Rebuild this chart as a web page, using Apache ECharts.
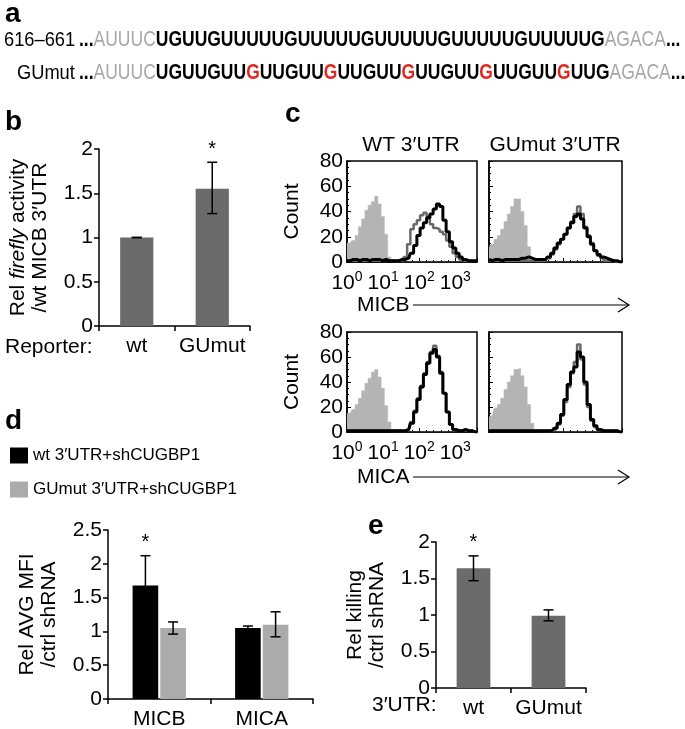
<!DOCTYPE html>
<html>
<head>
<meta charset="utf-8">
<script src="https://cdn.jsdelivr.net/npm/echarts@6/dist/echarts.min.js"></script>
<style>html,body{margin:0;padding:0;background:#fff}#main{width:685px;height:729px}</style>
</head>
<body>
<div id="main"></div>
<script>
const FONT = '"Liberation Sans", Arial, Helvetica, sans-serif';

// b: luciferase reporter
const reporterCats = ['wt', 'GUmut'];
const fireflyVals = [1.0, 1.55];
const fireflyErr = [[1.0, 1.0], [1.27, 1.85]];
const fireflySig = [0, 1];

// c: flow histograms, x in log10 decades (box runs 10^0 .. 10^3.6)
const bins = [0,0.09,0.18,0.27,0.36,0.45,0.54,0.63,0.72,0.81,0.9,0.99,1.08,1.17,1.26,1.35,1.44,1.53,1.62,1.71,
  1.8,1.89,1.98,2.07,2.16,2.25,2.34,2.43,2.52,2.61,2.7,2.79,2.88,2.97,3.06,3.15,3.24,3.33,3.42,3.51,3.6];
const micbWtIso  = [15,15,17,21,28,34,41,45,48,52,46,36,22,4,0,0,0,0,0,0,0,0,0,0,0,0,0,0,0,0,0,0,0,0,0,0,0,0,0,0,0];
const micbWtCtrl = [1,1,1,1,1,1,1,1,1,1,1,1,1,1,1,1,1,1,4,14,26,30,33,37,39,36,30,27,26,24,22,17,12,7,4,2,1,1,1,1,0];
const micbWtSh   = [1,1,2,2,1,2,2,1,2,2,2,1,2,1,1,1,1,2,2,3,7,13,21,27,31,35,38,42,46,44,33,24,16,11,7,4,2,1,1,1,0];
const micbMutIso  = [11,14,18,21,26,32,38,44,50,50,40,29,12,1,0,0,0,0,0,0,0,0,0,0,0,0,0,0,0,0,0,0,0,0,0,0,0,0,0,0,0];
const micbMutCtrl = [1,1,1,1,1,1,1,1,1,1,1,1,1,1,1,1,1,1,3,6,10,14,18,22,27,32,38,44,38,28,21,15,9,5,3,1,1,1,0,0,0];
const micbMutSh   = [2,1,2,2,1,2,2,2,2,2,3,3,4,3,2,2,2,2,4,7,11,15,18,22,27,31,36,38,34,27,20,14,9,6,4,3,2,1,1,0,0];
const micaWtIso  = [15,15,18,22,27,33,39,43,48,50,44,35,21,8,2,0,0,0,0,0,0,0,0,0,0,0,0,0,0,0,0,0,0,0,0,0,0,0,0,0,0];
const micaWtCtrl = [1,1,1,1,1,1,1,1,1,1,1,1,1,1,1,1,1,1,1,2,8,17,27,37,47,56,64,69,61,48,31,16,6,2,1,1,1,1,1,0,0];
const micaWtSh   = [1,1,1,1,1,1,1,1,1,1,1,1,1,1,1,1,1,1,1,2,7,16,26,36,46,55,63,66,60,47,31,16,6,2,1,1,2,1,1,0,0];
const micaMutIso  = [12,13,19,22,27,34,40,45,50,51,45,36,22,7,1,0,0,0,0,0,0,0,0,0,0,0,0,0,0,0,0,0,0,0,0,0,0,0,0,0,0];
const micaMutCtrl = [1,1,1,1,1,1,1,1,1,1,1,1,1,1,1,1,1,1,1,1,2,6,13,24,36,47,56,70,58,38,20,9,4,2,1,1,1,1,1,0,0];
const micaMutSh   = [1,1,1,1,1,1,1,1,1,1,1,1,1,1,1,1,1,1,1,1,3,7,14,26,38,48,52,64,60,40,22,10,5,2,1,1,1,1,1,0,0];
const decadeLabels = ['0', '1', '2', '3'];

// d: MFI
const mfiCats = ['MICB', 'MICA'];
const mfiWt  = [1.68, 1.05];
const mfiMut = [1.05, 1.10];
const mfiWtErr  = [[1.24, 2.12], [1.02, 1.08]];
const mfiMutErr = [[0.96, 1.14], [0.92, 1.29]];
const mfiSig = [1, 0];
const legendNames = ['wt 3′UTR+shCUGBP1', 'GUmut 3′UTR+shCUGBP1'];

// e: killing
const killVals = [1.64, 0.99];
const killErr = [[1.47, 1.81], [0.92, 1.07]];
const killSig = [1, 0];

const chart = echarts.init(document.getElementById('main'));

// text style for axes/legend
function txt(size, extra) {
  return Object.assign({ fontSize: size, fontFamily: FONT, color: '#000' }, extra || {});
}
// text style for graphic / custom elements (zrender uses fill)
function gtxt(size, extra) {
  return Object.assign({ fontSize: size, fontFamily: FONT, fill: '#000' }, extra || {});
}

function errSeries(ax, errs, sig, off) {
  return {
    type: 'custom', xAxisIndex: ax, yAxisIndex: ax, z: 10, silent: true,
    data: errs.map((e, i) => [i, e[0], e[1], sig[i]]),
    renderItem: function (params, api) {
      const top = api.coord([api.value(0), api.value(2)]);
      const bot = api.coord([api.value(0), api.value(1)]);
      const x = top[0] + api.size([1, 0])[0] * off;
      const st = { stroke: '#000', lineWidth: 1.5 };
      const kids = [
        { type: 'line', shape: { x1: x, y1: top[1], x2: x, y2: bot[1] }, style: st },
        { type: 'line', shape: { x1: x - 5, y1: top[1], x2: x + 5, y2: top[1] }, style: st },
        { type: 'line', shape: { x1: x - 5, y1: bot[1], x2: x + 5, y2: bot[1] }, style: st }
      ];
      if (api.value(3)) {
        kids.push({ type: 'text', style: gtxt(20, { text: '*', x: x, y: top[1] - 3, align: 'center', verticalAlign: 'bottom' }) });
      }
      return { type: 'group', children: kids };
    }
  };
}

function barY(grid, max, name, gap) {
  return {
    type: 'value', gridIndex: grid, min: 0, max: max, interval: 0.5,
    axisLine: { show: true, lineStyle: { color: '#000', width: 1.5 } },
    axisTick: { show: true, length: 5, lineStyle: { color: '#000', width: 1.5 } },
    axisLabel: txt(21, { margin: 6 }),
    splitLine: { show: false },
    name: name, nameLocation: 'middle', nameGap: gap,
    nameTextStyle: txt(21, { lineHeight: 22, rich: {
      n: txt(21, { lineHeight: 22 }), i: txt(21, { lineHeight: 22, fontStyle: 'italic' }) } })
  };
}

function barX(grid, cats) {
  return {
    type: 'category', gridIndex: grid, data: cats,
    axisLine: { show: true, lineStyle: { color: '#000', width: 1.5 } },
    axisTick: { show: true, length: 5, lineStyle: { color: '#000', width: 1.5 } },
    axisLabel: txt(21, { margin: 10, interval: 0 })
  };
}

const histGrids = [
  { left: 347, top: 161, width: 130, height: 101 },
  { left: 489, top: 161, width: 133, height: 101 },
  { left: 347, top: 332, width: 130, height: 100 },
  { left: 489, top: 332, width: 133, height: 100 }
];

function histX(grid, labels) {
  return {
    type: 'value', gridIndex: grid, min: 0, max: 3.6, interval: 1,
    axisLine: { show: true, lineStyle: { color: '#000', width: 1.5 } },
    axisTick: { show: true, inside: true, length: 4, lineStyle: { color: '#000' } },
    minorTick: { show: true, splitNumber: 5, length: 2, lineStyle: { color: '#000' } },
    splitLine: { show: false },
    axisLabel: {
      show: labels, margin: 8, showMaxLabel: false,
      formatter: v => v < 3.5 ? '{b|10}{s|' + decadeLabels[v] + '}' : '',
      rich: { b: txt(21, { lineHeight: 24, verticalAlign: 'bottom' }), s: txt(14, { lineHeight: 14, verticalAlign: 'top' }) }
    }
  };
}

function histY(grid, labels) {
  return {
    type: 'value', gridIndex: grid, min: 0, max: 80, interval: 20,
    axisLine: { show: true, lineStyle: { color: '#000', width: 1.5 } },
    axisTick: { show: true, inside: true, length: 4, lineStyle: { color: '#000' } },
    minorTick: { show: true, splitNumber: 4, length: 2, lineStyle: { color: '#000' } },
    splitLine: { show: false },
    axisLabel: txt(21, { show: labels, margin: 4 }),
    name: labels ? 'Count' : '', nameLocation: 'middle', nameGap: 44, nameTextStyle: txt(21)
  };
}

function histSeries(ax, iso, ctrl, sh) {
  const pts = arr => bins.map((b, i) => [b, arr[i]]);
  return [
    { type: 'line', xAxisIndex: ax, yAxisIndex: ax, data: pts(iso), step: 'middle', symbol: 'none', silent: true,
      lineStyle: { width: 0.5, color: '#b4b4b4' }, areaStyle: { color: '#b4b4b4', opacity: 1 }, z: 2 },
    { type: 'line', xAxisIndex: ax, yAxisIndex: ax, data: pts(ctrl), step: 'middle', symbol: 'none', silent: true,
      lineStyle: { width: 2.5, color: '#6a6a6a' }, z: 3 },
    { type: 'line', xAxisIndex: ax, yAxisIndex: ax, data: pts(sh), step: 'middle', symbol: 'none', silent: true,
      lineStyle: { width: 3, color: '#000' }, z: 4 }
  ];
}

const seqWt = '{k|...}{g|AUUUC}{b|UGUUGUUUUUGUUUUUGUUUUUGUUUUUGUUUUUG}{g|AGACA}{k|...}';
const seqMut = '{k|...}{g|AUUUC}{b|UGUUGUU}{r|G}{b|UUGUU}{r|G}{b|UUGUU}{r|G}{b|UUGUU}{r|G}{b|UUGUU}{r|G}{b|UUG}{g|AGACA}{k|...}';
const seqRich = {
  k: gtxt(22, { fontWeight: 'bold' }),
  g: gtxt(22, { fill: '#a8a8a8' }),
  b: gtxt(22, { fontWeight: 'bold' }),
  r: gtxt(22, { fontWeight: 'bold', fill: '#e3251f' })
};

function arrow(y) {
  return {
    type: 'group', children: [
      { type: 'line', shape: { x1: 413, y1: y, x2: 628, y2: y }, style: { stroke: '#000', lineWidth: 1.2 } },
      { type: 'polyline', shape: { points: [[618, y - 7], [629, y], [618, y + 7]] }, style: { stroke: '#000', lineWidth: 1.2, fill: null } }
    ]
  };
}

const option = {
  animation: false,
  backgroundColor: '#fff',
  grid: [
    { left: 99, top: 149, width: 151, height: 177 },
    ...histGrids.map(g => Object.assign({ show: true, borderColor: '#000', borderWidth: 1.5 }, g)),
    { left: 108, top: 530, width: 205, height: 169 },
    { left: 436, top: 542, width: 150, height: 146 }
  ].map(g => Object.assign({ outerBoundsMode: 'none', containLabel: false }, g)),
  xAxis: [
    barX(0, reporterCats),
    histX(1, true), histX(2, false), histX(3, true), histX(4, false),
    barX(5, mfiCats),
    barX(6, reporterCats)
  ],
  yAxis: [
    barY(0, 2, '{n|Rel }{i|firefly}{n| activity}\n{n|/wt MICB 3′UTR}', 48),
    histY(1, true), histY(2, false), histY(3, true), histY(4, false),
    barY(5, 2.5, 'Rel AVG MFI\n/ctrl shRNA', 48),
    barY(6, 2, 'Rel killing\n/ctrl shRNA', 48)
  ],
  legend: {
    data: legendNames, orient: 'vertical', left: 5, top: 442, icon: 'rect',
    itemWidth: 18, itemHeight: 16, itemGap: 17, selectedMode: false,
    textStyle: txt(17)
  },
  series: [
    { type: 'bar', xAxisIndex: 0, yAxisIndex: 0, data: fireflyVals, barWidth: '44%', itemStyle: { color: '#6b6b6b' } },
    errSeries(0, fireflyErr, fireflySig, 0),
    ...histSeries(1, micbWtIso, micbWtCtrl, micbWtSh),
    ...histSeries(2, micbMutIso, micbMutCtrl, micbMutSh),
    ...histSeries(3, micaWtIso, micaWtCtrl, micaWtSh),
    ...histSeries(4, micaMutIso, micaMutCtrl, micaMutSh),
    { type: 'bar', name: legendNames[0], xAxisIndex: 5, yAxisIndex: 5, data: mfiWt, barWidth: '25%', barGap: '8%', itemStyle: { color: '#000' } },
    { type: 'bar', name: legendNames[1], xAxisIndex: 5, yAxisIndex: 5, data: mfiMut, barWidth: '25%', barGap: '8%', itemStyle: { color: '#ababab' } },
    errSeries(5, mfiWtErr, mfiSig, -0.135),
    errSeries(5, mfiMutErr, [0, 0], 0.135),
    { type: 'bar', xAxisIndex: 6, yAxisIndex: 6, data: killVals, barWidth: '45%', itemStyle: { color: '#6b6b6b' } },
    errSeries(6, killErr, killSig, 0)
  ],
  graphic: [
    { type: 'text', left: 5, top: 0, style: gtxt(28, { text: 'a', fontWeight: 'bold' }) },
    { type: 'text', x: 4, y: 40, scaleX: 0.87, style: gtxt(21, { text: '616–661', verticalAlign: 'middle' }) },
    { type: 'text', x: 79, y: 40, scaleX: 0.795, style: { text: seqWt, rich: seqRich, verticalAlign: 'middle' } },
    { type: 'text', x: 17, y: 73, scaleX: 0.87, style: gtxt(21, { text: 'GUmut', verticalAlign: 'middle' }) },
    { type: 'text', x: 79, y: 73, scaleX: 0.795, style: { text: seqMut, rich: seqRich, verticalAlign: 'middle' } },
    { type: 'text', left: 5, top: 108, style: gtxt(28, { text: 'b', fontWeight: 'bold' }) },
    { type: 'text', x: 5, y: 347, style: gtxt(21, { text: 'Reporter:', verticalAlign: 'middle' }) },
    { type: 'text', left: 285, top: 100, style: gtxt(28, { text: 'c', fontWeight: 'bold' }) },
    { type: 'text', x: 411, y: 145, style: gtxt(21, { text: 'WT 3′UTR', align: 'center', verticalAlign: 'middle' }) },
    { type: 'text', x: 555, y: 145, style: gtxt(21, { text: 'GUmut 3′UTR', align: 'center', verticalAlign: 'middle' }) },
    { type: 'text', x: 357, y: 305, style: gtxt(21, { text: 'MICB', verticalAlign: 'middle' }) },
    arrow(305),
    { type: 'text', x: 357, y: 477, style: gtxt(21, { text: 'MICA', verticalAlign: 'middle' }) },
    arrow(477),
    { type: 'text', left: 5, top: 407, style: gtxt(28, { text: 'd', fontWeight: 'bold' }) },
    { type: 'text', left: 368, top: 512, style: gtxt(28, { text: 'e', fontWeight: 'bold' }) },
    { type: 'text', x: 372, y: 705, style: gtxt(21, { text: '3′UTR:', verticalAlign: 'middle' }) }
  ]
};

chart.setOption(option);
</script>
</body>
</html>
